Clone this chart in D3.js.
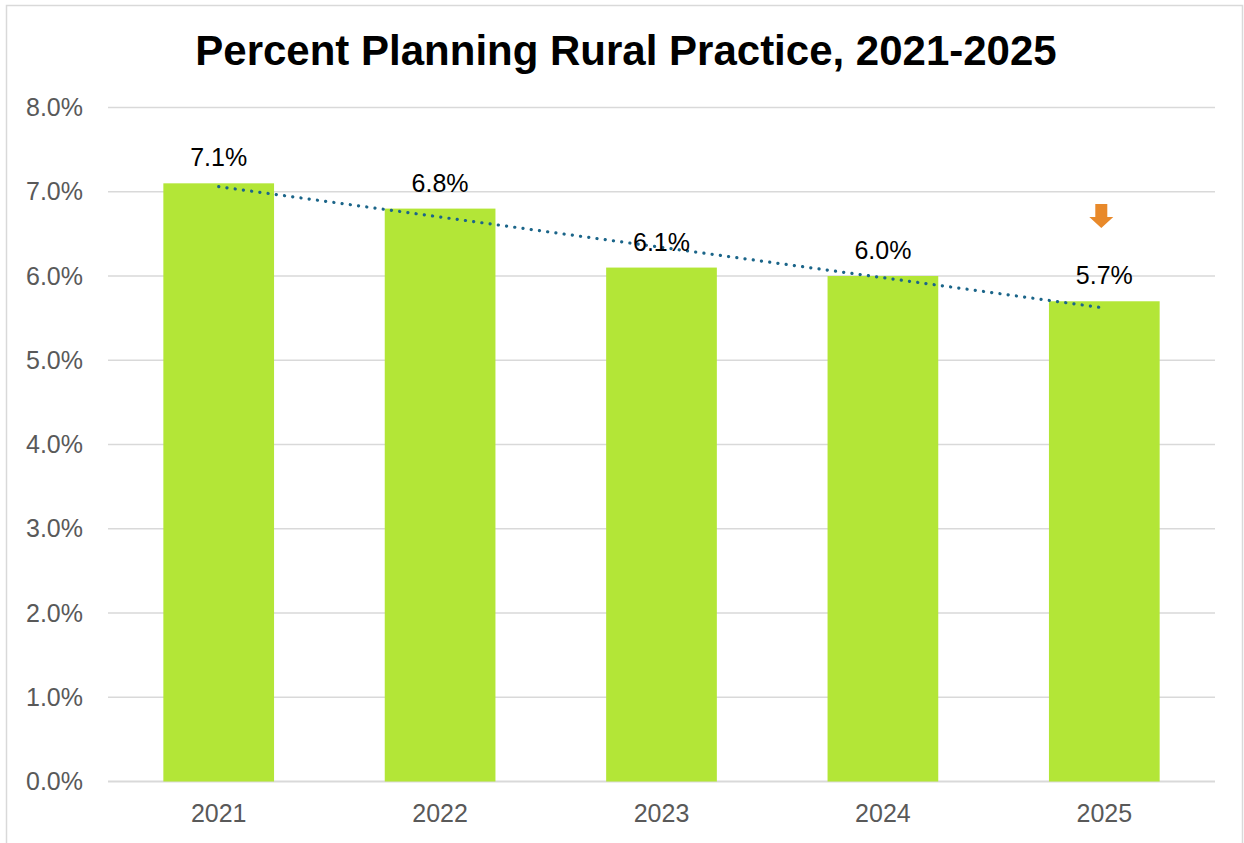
<!DOCTYPE html>
<html>
<head>
<meta charset="utf-8">
<script src="https://cdn.jsdelivr.net/npm/d3@7"></script>
<style>
  html, body { margin: 0; padding: 0; background: #ffffff; }
  svg { display: block; }
  text { font-family: "Liberation Sans", Arial, sans-serif; }
</style>
</head>
<body>
<svg id="chart" width="1244" height="843"></svg>
<script>
const title = "Percent Planning Rural Practice, 2021-2025";
const categories = ["2021", "2022", "2023", "2024", "2025"];
const values = [7.1, 6.8, 6.1, 6.0, 5.7];
const yTicks = [0, 1, 2, 3, 4, 5, 6, 7, 8];
const arrowCategory = "2025";

const svg = d3.select("#chart");
const plot = { left: 108, right: 1215, top: 107.5, bottom: 781.5 };

// chart border
svg.append("rect")
  .attr("x", 6.5).attr("y", 5.5)
  .attr("width", 1236).attr("height", 850)
  .attr("fill", "#fff").attr("stroke", "#d9d9d9").attr("stroke-width", 1.5);

const x = d3.scaleBand().domain(categories)
  .range([plot.left, plot.right]).paddingInner(0.5).paddingOuter(0.25);
const y = d3.scaleLinear().domain([0, 8]).range([plot.bottom, plot.top]);

// gridlines
svg.append("g").selectAll("line").data(yTicks).join("line")
  .attr("x1", plot.left).attr("x2", plot.right)
  .attr("y1", d => y(d)).attr("y2", d => y(d))
  .attr("stroke", "#d9d9d9").attr("stroke-width", d => d === 0 ? 2 : 1.5);

// y axis labels
const yAxis = d3.axisLeft(y).tickValues(yTicks)
  .tickFormat(d => d3.format(".1f")(d) + "%").tickSize(0).tickPadding(0);
const gy = svg.append("g").attr("transform", `translate(${83},0)`).call(yAxis);
gy.select(".domain").remove();
gy.selectAll("text").attr("font-size", 25).attr("fill", "#595959")
  .style("font-family", "'Liberation Sans', Arial, sans-serif");

// x axis labels
const xAxis = d3.axisBottom(x).tickSize(0).tickPadding(0);
const gx = svg.append("g").attr("transform", `translate(0,${plot.bottom})`).call(xAxis);
gx.select(".domain").remove();
gx.selectAll("text").attr("font-size", 25).attr("fill", "#595959")
  .attr("dy", null).attr("y", 40)
  .style("font-family", "'Liberation Sans', Arial, sans-serif");

// bars
svg.append("g").selectAll("rect").data(values).join("rect")
  .attr("x", (d, i) => x(categories[i]))
  .attr("width", x.bandwidth())
  .attr("y", d => y(d))
  .attr("height", d => y(0) - y(d))
  .attr("fill", "#b3e637");

// linear trendline (least squares on the data)
const n = values.length;
const xs = d3.range(n);
const mx = d3.mean(xs), my = d3.mean(values);
const slope = d3.sum(xs, i => (i - mx) * (values[i] - my)) / d3.sum(xs, i => (i - mx) ** 2);
const intercept = my - slope * mx;
const cx = i => x(categories[i]) + x.bandwidth() / 2;
svg.append("line")
  .attr("x1", cx(0)).attr("y1", y(intercept))
  .attr("x2", cx(n - 1)).attr("y2", y(intercept + slope * (n - 1)))
  .attr("stroke", "#1b6589").attr("stroke-width", 3.2)
  .attr("stroke-linecap", "round").attr("stroke-dasharray", "0.1 8.2");

// data labels
svg.append("g").selectAll("text").data(values).join("text")
  .attr("x", (d, i) => cx(i))
  .attr("y", d => y(d) - 17)
  .attr("text-anchor", "middle").attr("font-size", 25).attr("fill", "#000")
  .text(d => d3.format(".1f")(d) + "%");

// down arrow above last bar
const ax = cx(categories.indexOf(arrowCategory)) - 3;
const aTop = 204;
svg.append("path")
  .attr("d", `M${ax - 6},${aTop} L${ax + 6},${aTop} L${ax + 6},${aTop + 13} L${ax + 12},${aTop + 13} L${ax},${aTop + 24} L${ax - 12},${aTop + 13} L${ax - 6},${aTop + 13} Z`)
  .attr("fill", "#e8892a");

// title
svg.append("text")
  .attr("x", 626).attr("y", 65)
  .attr("text-anchor", "middle").attr("font-size", 42).attr("font-weight", "bold")
  .attr("fill", "#000").text(title);
</script>
</body>
</html>
